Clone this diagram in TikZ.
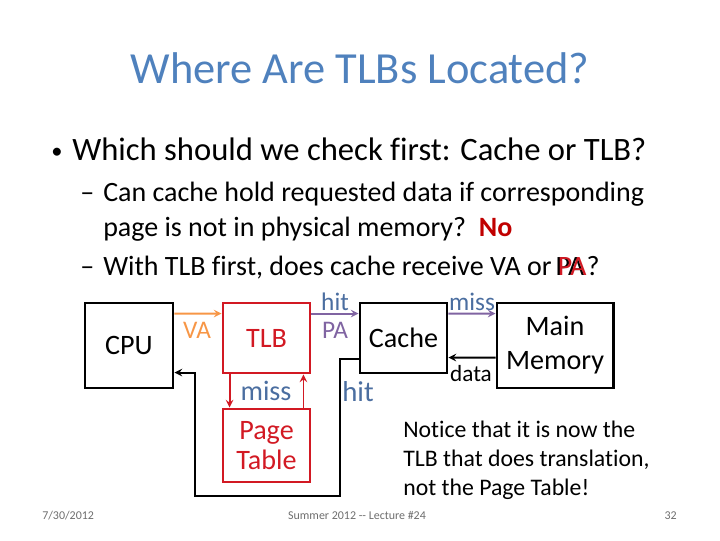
\documentclass[tikz,border=0pt]{standalone}
\usepackage{fontspec}
\setmainfont{Carlito}[Ligatures=NoCommon]
\usepackage{xcolor}
\definecolor{titleblue}{RGB}{79,129,189}
\definecolor{lblue}{RGB}{75,110,160}
\definecolor{vaorange}{RGB}{247,150,70}
\definecolor{papurple}{RGB}{128,100,162}
\definecolor{boxred}{RGB}{210,25,35}
\definecolor{nored}{RGB}{192,0,0}
\definecolor{footgray}{RGB}{110,110,110}

\begin{document}
\begin{tikzpicture}[x=0.025cm,y=-0.025cm]
\tikzstyle{box} = [rectangle, draw, line width=2.1pt, text centered, font=\fontsize{20}{24.2}\selectfont, inner sep=0pt]
\tikzstyle{redbox} = [box, draw=boxred, text=boxred]
\tikzstyle{lbl} = [inner sep=0pt, font=\fontsize{18}{21}\selectfont]
\tikzstyle{line} = [anchor=base west, inner sep=0pt]
\tikzstyle{arrow} = [line width=1.4pt,->,>=stealth]

\useasboundingbox (0,0) rectangle (720,540);

\node (title) [text=titleblue, font=\fontsize{31.6}{36}\selectfont, anchor=base] at (360,83) {Where Are TLBs Located?};
\node (b1) [line, font=\fontsize{16}{20}\selectfont] at (51,158) {\textbullet};
\node (q1) [line, font=\fontsize{23.2}{28}\selectfont] at (72,160) {Which should we check first: Cache or TLB?};
\node (d1) [line, font=\fontsize{19.9}{24}\selectfont] at (80,201) {\textendash};
\node (s1) [line, font=\fontsize{19.9}{24}\selectfont] at (103,201) {Can cache hold requested data if corresponding};
\node (s2) [line, font=\fontsize{19.9}{24}\selectfont] at (103,236) {page is not in physical memory?\ \ \textcolor{nored}{\textbf{No}}};
\node (d2) [line, font=\fontsize{19.9}{24}\selectfont] at (80,275) {\textendash};
\node (s3) [line, font=\fontsize{19.9}{24}\selectfont] at (103,275) {With TLB first, does cache receive VA or \phantom{PA}?};
\node (pa1) [line, font=\fontsize{19.9}{24}\selectfont, anchor=base east] at ([xshift=-0.06cm]s3.base east) {PA\phantom{?}};
\node (pa2) [line, font=\fontsize{19.9}{24}\selectfont, anchor=base east, text=boxred] at (s3.base east) {PA\phantom{?}};

\node (cpu) [box, minimum width=2.2cm, minimum height=2.125cm] at (129,345.5) {CPU};
\node (tlb) [redbox, minimum width=2.175cm, minimum height=1.75cm] at (266.5,338) {TLB};
\node (pt) [redbox, minimum width=2.175cm, minimum height=1.825cm, align=center, font=\fontsize{20}{20.8}\selectfont] at (266.5,445.5) {Page\\Table};
\node (cache) [box, minimum width=2.175cm, minimum height=1.75cm] at (403.5,338) {Cache};
\node (mm) [box, minimum width=2.9cm, minimum height=2.125cm, align=center] at (555,345.5) {Main\\Memory};

\coordinate (r1) at (340,496);
\coordinate (r2) at (195,496);

\draw [arrow, vaorange] ([yshift=-0.3cm]cpu.north east) -- ([yshift=-0.3cm]tlb.north west);
\draw [arrow, papurple] ([yshift=-0.3cm]tlb.north east) -- ([yshift=-0.3cm]cache.north west);
\draw [arrow, papurple] ([yshift=-0.3cm]cache.north east) -- ([yshift=-0.3cm]mm.north west);
\draw [arrow] ([yshift=-1.4cm]mm.north west) -- ([yshift=-1.4cm]cache.north east);
\draw [arrow, boxred] ([xshift=0.2cm]tlb.south west) -- ([xshift=0.2cm]pt.north west);
\draw [arrow, boxred] ([xshift=-0.2cm]pt.north east) -- ([xshift=-0.2cm]tlb.south east);
\draw [arrow] ([yshift=-1.425cm]cache.north west) -| (r1) -- (r2) |- ([yshift=-1.775cm]cpu.north east);

\node (va) [lbl, text=vaorange] at (197,330) {VA};
\node (hit1) [lbl, text=lblue] at (335,302) {hit};
\node (pa) [lbl, text=papurple] at (335,330) {PA};
\node (miss1) [lbl, text=lblue] at (472,302) {miss};
\node (data) [lbl, font=\fontsize{16.5}{19}\selectfont] at (471,374) {data};
\node (miss2) [lbl, font=\fontsize{20}{23}\selectfont, text=lblue] at (266,391) {miss};
\node (hit2) [lbl, font=\fontsize{20.5}{23}\selectfont, text=lblue] at (358,392) {hit};

\node (n1) [line, font=\fontsize{16.9}{20}\selectfont] at (403,437) {Notice that it is now the};
\node (n2) [line, font=\fontsize{16.9}{20}\selectfont] at (403,466) {TLB that does translation,};
\node (n3) [line, font=\fontsize{16.9}{20}\selectfont] at (403,495) {not the Page Table!};

\node (date) [line, font=\fontsize{8.5}{10}\selectfont, text=footgray] at (42,519) {7/30/2012};
\node (foot) [font=\fontsize{8.5}{10}\selectfont, text=footgray, anchor=base, inner sep=0pt] at (357,519) {Summer 2012 {-}{-} Lecture \#24};
\node (num) [font=\fontsize{8.5}{10}\selectfont, text=footgray, anchor=base east, inner sep=0pt] at (677,519) {32};
\end{tikzpicture}
\end{document}
